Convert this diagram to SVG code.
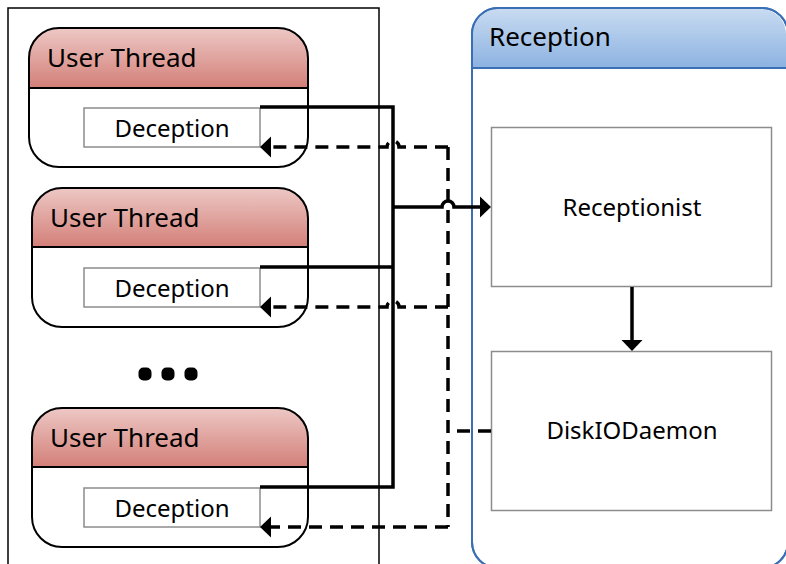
<svg xmlns="http://www.w3.org/2000/svg" width="786" height="564" viewBox="0 0 786 564">
<style>
text{font-family:"Noto Sans","Open Sans","DejaVu Sans",sans-serif;fill:#000}
.hdr{font-size:26px}
.lbl{font-size:24px}
.ctr{text-anchor:middle}
.thread{fill:none;stroke:#000;stroke-width:2}
.sep{stroke:#000;stroke-width:2}
.inner{fill:#fff;stroke:#8c8c8c;stroke-width:1.5}
.solid{fill:none;stroke:#000;stroke-width:3.5}
.dash{fill:none;stroke:#000;stroke-width:3.5;stroke-dasharray:13 8}
</style>
<defs>
<linearGradient id="gRed" x1="0" y1="0" x2="0" y2="1">
<stop offset="0" stop-color="#edc8c5"/>
<stop offset="1" stop-color="#d37f78"/>
</linearGradient>
<linearGradient id="gBlue" x1="0" y1="0" x2="0" y2="1">
<stop offset="0" stop-color="#c8dbf1"/>
<stop offset="1" stop-color="#8cb2e1"/>
</linearGradient>
<marker id="arr" markerUnits="userSpaceOnUse" markerWidth="12" markerHeight="22" viewBox="0 -11 12 22" refX="0" refY="0" orient="auto">
<path d="M0,-10.5 L11,0 L0,10.5 Z" fill="#000"/>
</marker>
</defs>

<g id="user-space">
<rect x="8" y="8" width="371" height="580" fill="#fff" stroke="#000" stroke-width="1.5"/>
</g>

<g id="reception">
<rect x="472" y="8" width="316" height="560" rx="26" fill="#fff" stroke="#3a6fb6" stroke-width="2"/>
<path d="M473,68 V34 a25,25 0 0 1 25,-25 H761 a25,25 0 0 1 25,25 V68 Z" fill="url(#gBlue)"/>
<rect x="472" y="8" width="316" height="560" rx="26" fill="none" stroke="#3a6fb6" stroke-width="2"/>
<line x1="472" y1="68" x2="788" y2="68" stroke="#3a6fb6" stroke-width="2"/>
<text class="hdr" x="489" y="46">Reception</text>
</g>

<g id="thread1">
<path d="M29,88 V58 a30,30 0 0 1 30,-30 H278 a30,30 0 0 1 30,30 V88 Z" fill="url(#gRed)"/>
<rect class="thread" x="29" y="28" width="279" height="139" rx="30"/>
<line class="sep" x1="29" y1="88" x2="308" y2="88"/>
<text class="hdr" x="47" y="67">User Thread</text>
</g>
<g id="deception1">
<rect class="inner" x="84" y="108" width="176" height="39"/>
<text class="lbl ctr" x="172" y="137">Deception</text>
</g>

<g id="thread2">
<path d="M32,247 V218 a30,30 0 0 1 30,-30 H278 a30,30 0 0 1 30,30 V247 Z" fill="url(#gRed)"/>
<rect class="thread" x="32" y="188" width="276" height="139" rx="30"/>
<line class="sep" x1="32" y1="247" x2="308" y2="247"/>
<text class="hdr" x="50" y="227">User Thread</text>
</g>
<g id="deception2">
<rect class="inner" x="84" y="268" width="176" height="39"/>
<text class="lbl ctr" x="172" y="297">Deception</text>
</g>

<g id="ellipsis">
<rect x="138.5" y="367.5" width="13" height="13" rx="5"/>
<rect x="161.5" y="367.5" width="13" height="13" rx="5"/>
<rect x="184.5" y="367.5" width="13" height="13" rx="5"/>
</g>

<g id="thread3">
<path d="M32,467 V438 a30,30 0 0 1 30,-30 H278 a30,30 0 0 1 30,30 V467 Z" fill="url(#gRed)"/>
<rect class="thread" x="32" y="408" width="276" height="139" rx="30"/>
<line class="sep" x1="32" y1="467" x2="308" y2="467"/>
<text class="hdr" x="50" y="447">User Thread</text>
</g>
<g id="deception3">
<rect class="inner" x="84" y="488" width="176" height="39"/>
<text class="lbl ctr" x="172" y="517">Deception</text>
</g>

<g id="receptionist">
<rect class="inner" x="491.5" y="127.5" width="280" height="159"/>
<text class="lbl ctr" x="632" y="216">Receptionist</text>
</g>
<g id="diskiodaemon">
<rect class="inner" x="491.5" y="351.5" width="280" height="159"/>
<text class="lbl ctr" x="632" y="439">DiskIODaemon</text>
</g>

<g id="connectors">
<path class="solid" d="M260,107 H393 V487 H260"/>
<path class="solid" d="M260,267 H393"/>
<path class="solid" d="M393,207 H442 a6,6 0 0 1 12,0 H480" marker-end="url(#arr)"/>
<path class="solid" d="M632,287 V340" marker-end="url(#arr)"/>
<path class="dash" d="M448,147 H399 a6,6 0 0 0 -12,0 H271" marker-end="url(#arr)"/>
<path class="dash" d="M448,307 H399 a6,6 0 0 0 -12,0 H271" marker-end="url(#arr)"/>
<path class="dash" d="M448,527 H271" marker-end="url(#arr)"/>
<path class="dash" d="M448,147 V527"/>
<path class="dash" d="M491,431 H448"/>
</g>
</svg>
